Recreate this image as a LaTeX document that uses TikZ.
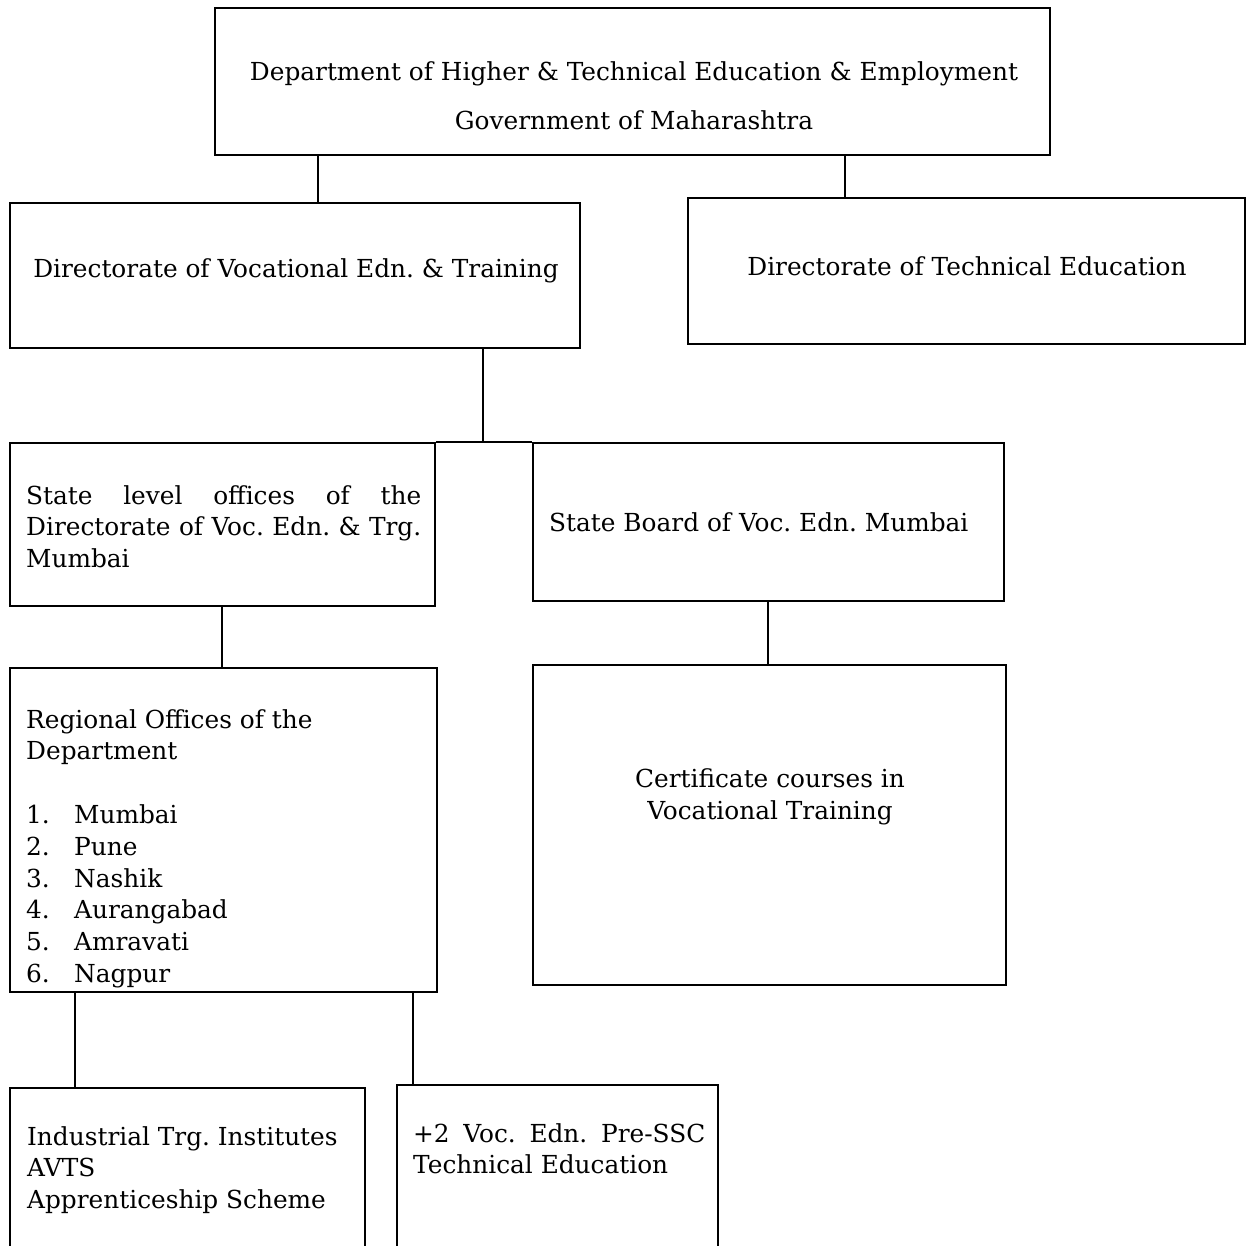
\documentclass[tikz,border=0pt]{standalone}
\usepackage{fontspec}
\setmainfont{DejaVu Serif}
\begin{document}
\frenchspacing
\begin{tikzpicture}[x=1pt,y=-1pt,
  box/.style={draw, line width=1.6pt, rectangle, inner sep=0pt},
  txt/.style={inner sep=0pt, font=\fontsize{24.8}{31.8}\selectfont},
  link/.style={line width=1.5pt}]
\useasboundingbox (0,0) rectangle (1255,1245);
\clip (0,0) rectangle (1255,1245);
% boxes
\node[box, minimum width=835pt, minimum height=147pt] (top)  at (632.5,81.5) {};
\node[box, minimum width=570pt, minimum height=145pt] (dvet) at (295,275.5) {};
\node[box, minimum width=557pt, minimum height=146pt] (dte)  at (966.5,271) {};
\node[box, minimum width=425pt, minimum height=163pt] (stl)  at (222.5,524.5) {};
\node[box, minimum width=471pt, minimum height=158pt] (brd)  at (768.5,522) {};
\node[box, minimum width=427pt, minimum height=324pt] (reg)  at (223.5,830) {};
\node[box, minimum width=473pt, minimum height=320pt] (cert) at (769.5,825) {};
\node[box, minimum width=355pt, minimum height=190pt] (ind)  at (187.5,1183) {};
\node[box, minimum width=321pt, minimum height=190pt] (plus) at (557.5,1180) {};
% texts
\node[txt, align=center, font=\fontsize{24.8}{49}\selectfont] (ttop) at (634,96)
  {Department of Higher \& Technical Education \& Employment\\Government of Maharashtra};
\node[txt] (tdvet) at (296,271) {Directorate of Vocational Edn. \& Training};
\node[txt] (tdte) at (967,266) {Directorate of Technical Education};
\node[txt, align=left, anchor=north west] (tstl) at (26,485)
  {\makebox[395pt][s]{State level offices of the}\\
   \makebox[395pt][s]{Directorate of Voc. Edn. \& Trg.}\\Mumbai};
\node[txt, anchor=west] (tbrd) at (549,522) {State Board of Voc. Edn. Mumbai};
\node[txt, align=left, anchor=north west] (treg) at (26,709)
  {Regional Offices of the\\Department\\[31.8pt]
   \makebox[48pt][l]{1.}Mumbai\\
   \makebox[48pt][l]{2.}Pune\\
   \makebox[48pt][l]{3.}Nashik\\
   \makebox[48pt][l]{4.}Aurangabad\\
   \makebox[48pt][l]{5.}Amravati\\
   \makebox[48pt][l]{6.}Nagpur};
\node[txt, align=center] (tcert) at (770,797) {Certificate courses in\\Vocational Training};
\node[txt, align=left, anchor=north west] (tind) at (27,1126)
  {Industrial Trg. Institutes\\AVTS\\Apprenticeship Scheme};
\node[txt, align=left, anchor=north west] (tplus) at (413,1123)
  {\makebox[292pt][s]{+2 Voc. Edn. Pre-SSC}\\Technical Education};
% connector x positions
\coordinate (xa) at (318,0);
\coordinate (xb) at (845,0);
\coordinate (xc) at (483,0);
\coordinate (xd) at (222,0);
\coordinate (xe) at (768,0);
\coordinate (xf) at (75,0);
\coordinate (xg) at (413,0);
% connectors
\draw[link] (top.south -| xa) -- (dvet.north -| xa);
\draw[link] (top.south -| xb) -- (dte.north -| xb);
\draw[link] (dvet.south -| xc) -- (stl.north -| xc);
\draw[link] (stl.north east) -- (brd.north west);
\draw[link] (stl.south -| xd) -- (reg.north -| xd);
\draw[link] (brd.south -| xe) -- (cert.north -| xe);
\draw[link] (reg.south -| xf) -- (ind.north -| xf);
\draw[link] (reg.south -| xg) -- (plus.north -| xg);
\end{tikzpicture}
\end{document}
